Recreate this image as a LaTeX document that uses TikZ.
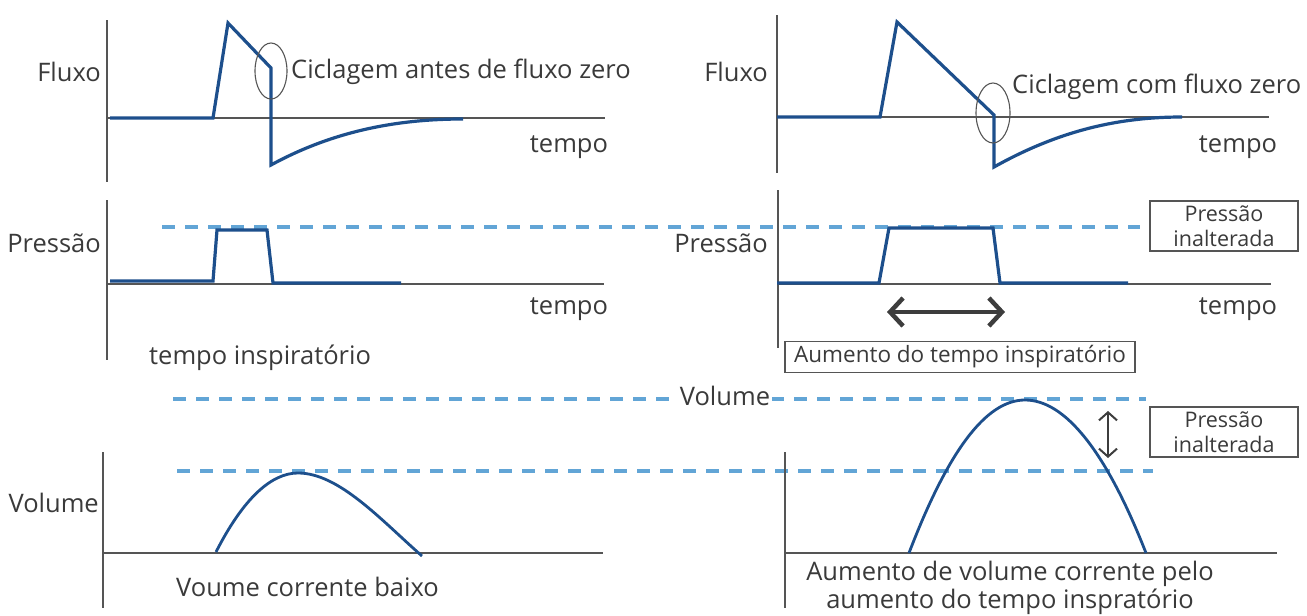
\documentclass[tikz,border=0pt]{standalone}
\usepackage{fontspec}
\setmainfont{Open Sans}
\usetikzlibrary{arrows.meta}
\definecolor{txt}{HTML}{3A3A3A}
\definecolor{axisc}{HTML}{555555}
\definecolor{wave}{HTML}{1D4F8C}
\definecolor{dash}{HTML}{62A5D6}
\definecolor{arr}{HTML}{3D3D3D}
\tikzset{
  lbl/.style={text=txt, font=\fontsize{25.5}{30}\selectfont, inner sep=0pt},
  axisline/.style={draw=axisc, line width=1.5pt},
  waveline/.style={draw=wave, line width=3.2pt, line join=miter},
  refline/.style={draw=dash, line width=3.2pt, dash pattern=on 13pt off 10pt},
  infobox/.style={draw=axisc, line width=1.1pt, text=txt, align=center, inner sep=0pt},
  ring/.style={draw=axisc, line width=1.1pt},
}
\begin{document}
\begin{tikzpicture}[x=1pt,y=-1pt]
\useasboundingbox (0,0) rectangle (1307,616);

% ---------- reference dashed lines ----------
\draw[refline] (162,227) -- (1140,227);
\draw[refline] (173,399) -- (1146,399);
\draw[refline] (177,471) -- (1153,471);

% ---------- Panel 1: top-left flow ----------
\draw[axisline] (107,20) -- (107,182);
\draw[axisline] (107,118) -- (605,118);
\draw[waveline] (110,118) -- (213,118) -- (228,23) -- (271,68) -- (271,165)
  .. controls (335,130) and (400,119) .. (463,119);
\draw[ring] (271,71) ellipse [x radius=16, y radius=28];
\node[lbl, anchor=east] (f1) at (101,72) {Fluxo};
\node[lbl, anchor=west] (c1) at (291,72) {Ciclagem antes de fluxo zero};
\node[lbl] (t1) at (569,147) {tempo};

% ---------- Panel 2: top-right flow ----------
\draw[axisline] (777,15) -- (777,173);
\draw[axisline] (777,117) -- (1269,117);
\draw[waveline] (777,117) -- (880,117) -- (897,22) -- (994,115) -- (994,167)
  .. controls (1060,130) and (1120,117) .. (1182,117);
\draw[ring] (993,113) ellipse [x radius=17, y radius=30];
\node[lbl, anchor=east] (f2) at (768,72) {Fluxo};
\node[lbl, anchor=west] (c2) at (1012,87) {Ciclagem com fluxo zero};
\node[lbl] (t2) at (1238,147) {tempo};

% ---------- Panel 3: left pressure ----------
\draw[axisline] (107,200) -- (107,360);
\draw[axisline] (107,284) -- (604,284);
\draw[waveline] (110,281) -- (213,281) -- (217,230) -- (267,230) -- (273,283) -- (401,283);
\node[lbl, anchor=east] (p1) at (101,243) {Pressão};
\node[lbl] (t3) at (569,309) {tempo};
\node[lbl, anchor=west] (ti) at (149,358) {tempo inspiratório};

% ---------- Panel 4: right pressure ----------
\draw[axisline] (778,190) -- (778,348);
\draw[axisline] (777,284) -- (1271,284);
\draw[waveline] (777,283) -- (879,283) -- (889,228) -- (993,228) -- (1000,283) -- (1128,283);
\node[lbl, anchor=east] (p2) at (768,243) {Pressão};
\node[lbl] (t4) at (1238,309) {tempo};
\coordinate (aL) at (887,312);
\coordinate (aR) at (1005,312);
\draw[draw=arr, line width=4.5pt, {Straight Barb[length=13pt,width=28pt]}-{Straight Barb[length=13pt,width=28pt]}] (aL) -- (aR);
\node[infobox, minimum width=350, minimum height=31, font=\fontsize{22.5}{26}\selectfont] (bx1) at (960,357) {Aumento do tempo inspiratório};
\node[infobox, minimum width=148, minimum height=50, font=\fontsize{21.5}{25}\selectfont] (bx2) at (1224,226) {Pressão\\inalterada};

% ---------- Panel 5: left volume ----------
\draw[axisline] (103,452) -- (103,608);
\draw[axisline] (103,553) -- (603,553);
\draw[draw=wave, line width=2.8pt] (216,552) .. controls (243,499) and (271,473) .. (298,473)
  .. controls (339,473) and (381,520) .. (422,556);
\node[lbl, anchor=east] (v1) at (99,503) {Volume};
\node[lbl, anchor=west] (vc) at (176,587) {Voume corrente baixo};

% ---------- Panel 6: right volume ----------
\draw[axisline] (785,452) -- (785,608);
\draw[axisline] (785,553) -- (1277,553);
\draw[draw=wave, line width=2.8pt] (909,553) .. controls (948,451) and (986,400) .. (1025,400)
  .. controls (1065,400) and (1106,451) .. (1146,553);
\node[lbl, fill=white, inner xsep=2pt] (v2) at (725,396) {Volume};
\coordinate (vT) at (1108,411);
\coordinate (vB) at (1108,458);
\draw[draw=arr, line width=2pt, {Straight Barb[length=8pt,width=18pt]}-{Straight Barb[length=8pt,width=18pt]}] (vT) -- (vB);
\node[infobox, minimum width=148, minimum height=50, font=\fontsize{21.5}{25}\selectfont] (bx3) at (1224,432) {Pressão\\inalterada};
\node[lbl, align=center, font=\fontsize{25.5}{28}\selectfont] (ac) at (1010,588) {Aumento de volume corrente pelo\\aumento do tempo inspratório};
\end{tikzpicture}
\end{document}
